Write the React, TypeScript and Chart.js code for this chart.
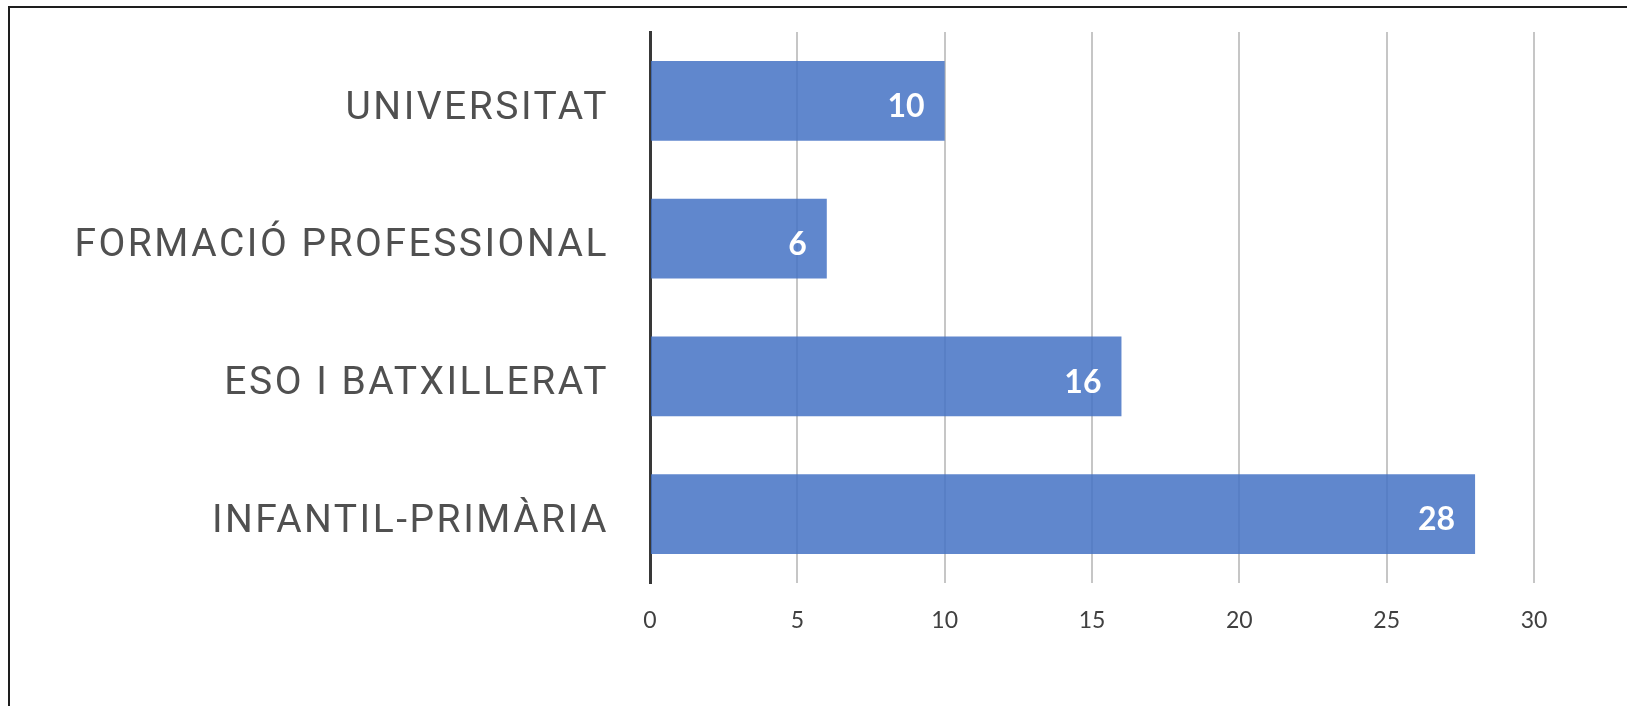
import React, { useEffect, useRef } from 'react';
import { Chart, registerables } from 'chart.js';

Chart.register(...registerables);

const categories = ['UNIVERSITAT', 'FORMACIÓ PROFESSIONAL', 'ESO I BATXILLERAT', 'INFANTIL-PRIMÀRIA'];
const values = [10, 6, 16, 28];
const xTickValues = [0, 5, 10, 15, 20, 25, 30];

export default function App() {
  const ref = useRef<HTMLCanvasElement | null>(null);

  useEffect(() => {
    const canvas = ref.current;
    if (!canvas) return;

    const labelSpacing = {
      id: 'labelSpacing',
      beforeDraw(chart: any) {
        (chart.ctx as any).letterSpacing = '2.5px';
      },
      beforeDatasetsDraw(chart: any) {
        (chart.ctx as any).letterSpacing = '0px';
      },
    };

    const valueLabels = {
      id: 'valueLabels',
      afterDatasetsDraw(chart: any) {
        const ctx = chart.ctx;
        const meta = chart.getDatasetMeta(0);
        ctx.save();
        ctx.font = 'bold 32px Lato';
        ctx.fillStyle = '#ffffff';
        ctx.textAlign = 'right';
        ctx.textBaseline = 'middle';
        meta.data.forEach((bar: any, i: number) => {
          ctx.fillText(String(values[i]), bar.x - 20, bar.y + 6);
        });
        ctx.restore();
      },
    };

    const chart = new Chart(canvas, {
      type: 'bar',
      data: {
        labels: categories,
        datasets: [
          {
            data: values,
            backgroundColor: 'rgba(68,114,196,0.85)',
            borderWidth: 0,
            barPercentage: 0.58,
            categoryPercentage: 1,
          },
        ],
      },
      options: {
        indexAxis: 'y',
        responsive: false,
        animation: false,
        layout: { padding: { top: 32, right: 93, bottom: 63, left: 0 } },
        plugins: {
          legend: { display: false },
          tooltip: { enabled: false },
        },
        scales: {
          x: {
            min: 0,
            max: 30,
            afterFit(scale: any) {
              scale.height = 60;
              scale.paddingLeft = 0;
              scale.paddingRight = 0;
            },
            grid: {
              color: '#c6c6c6',
              lineWidth: 2,
              drawTicks: false,
              z: -1,
            },
            border: { display: false },
            ticks: {
              stepSize: 5,
              padding: 24,
              z: 1,
              color: '#404040',
              font: { family: 'Lato', size: 23 },
              callback: (v: any) => (xTickValues.includes(Number(v)) ? String(v) : ''),
            },
          },
          y: {
            type: 'category',
            afterFit(scale: any) {
              scale.width = 650;
              scale.paddingTop = 0;
              scale.paddingBottom = 0;
            },
            grid: { display: false, drawTicks: false },
            border: { display: true, color: '#383838', width: 3 },
            ticks: {
              padding: 41,
              labelOffset: 8,
              color: '#505050',
              font: { family: 'Roboto', size: 39 },
            },
          },
        },
      },
      plugins: [labelSpacing, valueLabels],
    });

    return () => chart.destroy();
  }, []);

  return (
    <div style={{ position: 'absolute', left: 0, top: 0, width: 1627, height: 706, background: '#fff', overflow: 'hidden' }}>
      <div
        style={{
          position: 'absolute',
          left: 8,
          top: 6,
          width: 1700,
          height: 800,
          borderTop: '2px solid #1e1e1e',
          borderLeft: '2px solid #1e1e1e',
        }}
      />
      <canvas ref={ref} width={1627} height={706} style={{ position: 'absolute', left: 0, top: 0 }} />
    </div>
  );
}
